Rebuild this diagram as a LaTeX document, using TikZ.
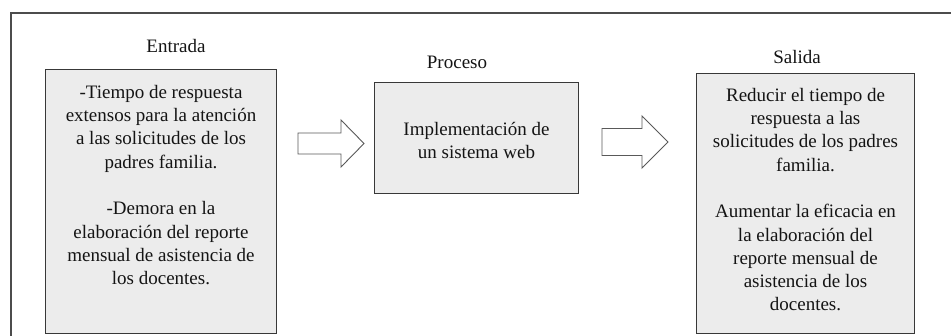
\documentclass[tikz,border=0pt]{standalone}
\usepackage{fontspec}
\setmainfont{Liberation Serif}
\newfontfamily\timesface{Liberation Serif}
\definecolor{boxgray}{HTML}{ECECEC}
\definecolor{inkgray}{HTML}{141414}
\begin{document}
\begin{tikzpicture}[x=1pt,y=-1pt,
  txt/.style={font=\timesface\fontsize{19}{23.3}\selectfont, text=inkgray, inner sep=0pt, align=center},
  label/.style={font=\timesface\fontsize{19}{23.3}\selectfont, text=inkgray, inner sep=0pt, anchor=base},
  box/.style={draw=black!78, line width=1pt, fill=boxgray, inner sep=0pt, anchor=north west},
  blockarrow/.style={draw=black!65, line width=0.9pt, fill=white, line join=miter},
  frame/.style={draw=black!70, line width=1.3pt}]
\useasboundingbox (0,0) rectangle (951,335);

% outer frame (left and top edges)
\draw[frame] (11,336) -- (11,13) -- (952,13);

% boxes
\node[box, minimum width=231pt, minimum height=264pt] (inbox)   at (45,69)  {};
\node[box, minimum width=204pt, minimum height=111pt] (procbox) at (374,82) {};
\node[box, minimum width=218pt, minimum height=260pt] (outbox)  at (696,73) {};

% headings
\node[label] (inlabel)   at (176,52) {Entrada};
\node[label] (proclabel) at (457,68) {Proceso};
\node[label] (outlabel)  at (797,63) {Salida};

% box contents
\node[txt, anchor=north] (intext) at (inbox.north |- 0,83)
  {\rule{0pt}{15pt}-Tiempo de respuesta\\extensos para la atención\\a las solicitudes de los\\padres familia.\\[23.3pt]
   -Demora en la\\elaboración del reporte\\mensual de asistencia de\\los docentes.};
\node[txt, anchor=north] (proctext) at (procbox.north |- 0,120)
  {\rule{0pt}{15pt}Implementación de\\un sistema web};
\node[txt, anchor=north] (outtext) at (outbox.north |- 0,86)
  {\rule{0pt}{15pt}Reducir el tiempo de\\respuesta a las\\solicitudes de los padres\\familia.\\[23.3pt]
   Aumentar la eficacia en\\la elaboración del\\reporte mensual de\\asistencia de los\\docentes.};

% block arrows between the stages
\coordinate (a1) at (298,143.5);
\coordinate (a2) at (602,142);
\draw[blockarrow] (a1) ++(0,-10.5) -- ++(43,0) -- ++(0,-13) -- ++(23,23.5)
  -- ++(-23,23.5) -- ++(0,-13) -- ++(-43,0) -- cycle;
\draw[blockarrow] (a2) ++(0,-13.5) -- ++(40,0) -- ++(0,-12.5) -- ++(26,26)
  -- ++(-26,26) -- ++(0,-12.5) -- ++(-40,0) -- cycle;
\end{tikzpicture}
\end{document}
